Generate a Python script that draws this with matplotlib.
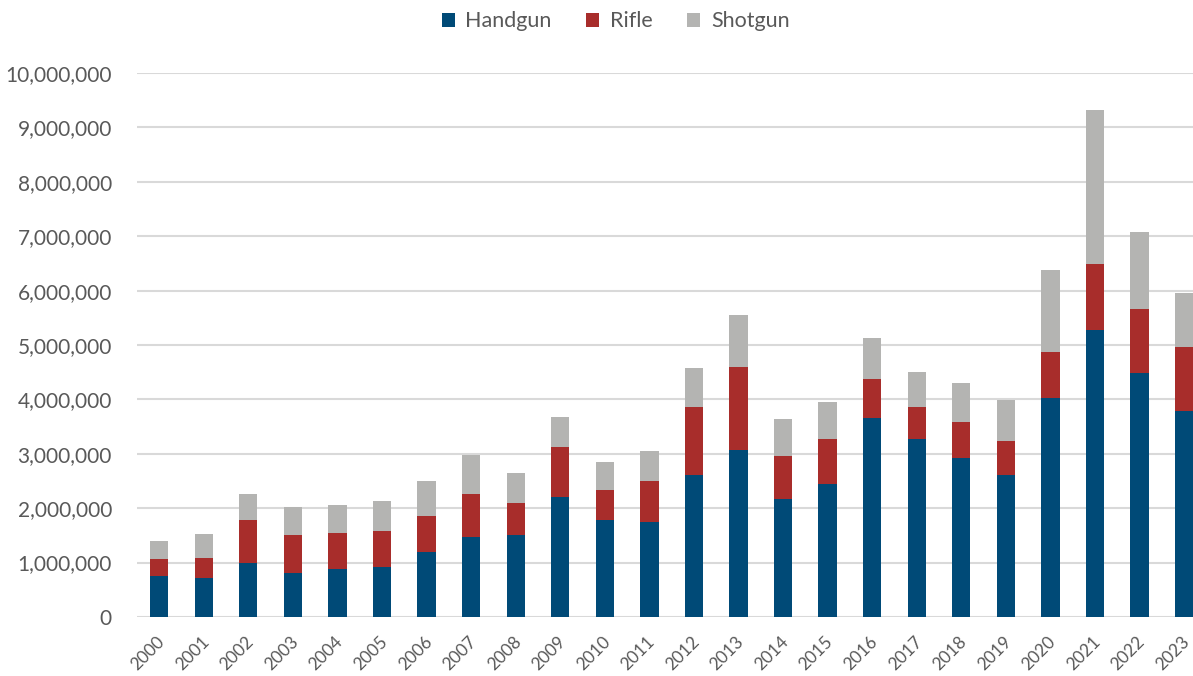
import numpy as np
import matplotlib
matplotlib.use("Agg")
import matplotlib.pyplot as plt
from matplotlib.ticker import FuncFormatter

years = [str(y) for y in range(2000, 2024)]

# cumulative tops (millions)
handgun_top = [0.75, 0.72, 0.99, 0.81, 0.88, 0.92, 1.19, 1.47, 1.51, 2.21, 1.78, 1.75,
               2.61, 3.07, 2.17, 2.44, 3.66, 3.27, 2.92, 2.61, 4.03, 5.28, 4.49, 3.79]
rifle_top = [1.07, 1.08, 1.78, 1.51, 1.54, 1.58, 1.86, 2.26, 2.10, 3.13, 2.33, 2.50,
             3.86, 4.60, 2.96, 3.27, 4.38, 3.86, 3.58, 3.24, 4.87, 6.49, 5.66, 4.96]
shotgun_top = [1.40, 1.53, 2.26, 2.02, 2.06, 2.13, 2.50, 2.98, 2.65, 3.68, 2.85, 3.05,
               4.58, 5.55, 3.64, 3.95, 5.13, 4.50, 4.30, 3.99, 6.38, 9.32, 7.08, 5.96]

handgun = np.array(handgun_top) * 1e6
rifle = (np.array(rifle_top) - np.array(handgun_top)) * 1e6
shotgun = (np.array(shotgun_top) - np.array(rifle_top)) * 1e6

colors = {"Handgun": "#004a77", "Rifle": "#a82d2b", "Shotgun": "#b4b4b2"}
text_color = "#595959"

plt.rcParams["font.family"] = ["Lato", "DejaVu Sans"]

fig = plt.figure(figsize=(11.93, 6.76), dpi=100)
ax = fig.add_axes([0.1148, 0.0873, 0.8852, 0.8047])

x = np.arange(len(years))
w = 0.41
ax.bar(x, handgun, w, color=colors["Handgun"], label="Handgun", zorder=3)
ax.bar(x, rifle, w, bottom=handgun, color=colors["Rifle"], label="Rifle", zorder=3)
ax.bar(x, shotgun, w, bottom=handgun + rifle, color=colors["Shotgun"], label="Shotgun", zorder=3)

ax.set_xlim(-0.5, 23.2)
ax.set_ylim(0, 10e6)
ax.set_yticks(np.arange(0, 10e6 + 1, 1e6))
ax.yaxis.set_major_formatter(FuncFormatter(lambda v, p: f"{int(v):,}"))
ax.set_xticks(x)
ax.set_xticklabels([])

# rotated year labels, nudged left so the top-right corner sits under the bar
for i, yr in enumerate(years):
    ax.annotate(yr, xy=(i, 0), xycoords=("data", "axes fraction"),
                xytext=(-2, -12), textcoords="offset points",
                rotation=45, ha="right", va="top", rotation_mode="anchor",
                fontsize=12.5, color=text_color, annotation_clip=False)

ax.grid(axis="y", color="#d9d9d9", linewidth=1.5, zorder=0)
for s in ax.spines.values():
    s.set_visible(False)
ax.tick_params(axis="both", length=0, colors=text_color)
ax.tick_params(axis="y", labelsize=15, pad=18)

fig.legend(loc="upper center", bbox_to_anchor=(0.516, 1.012), ncol=3, frameon=False,
           fontsize=15.5, handlelength=0.6, handleheight=0.6, handletextpad=0.5,
           columnspacing=1.6, labelcolor=text_color)

fig.savefig("out.png", dpi=100)
